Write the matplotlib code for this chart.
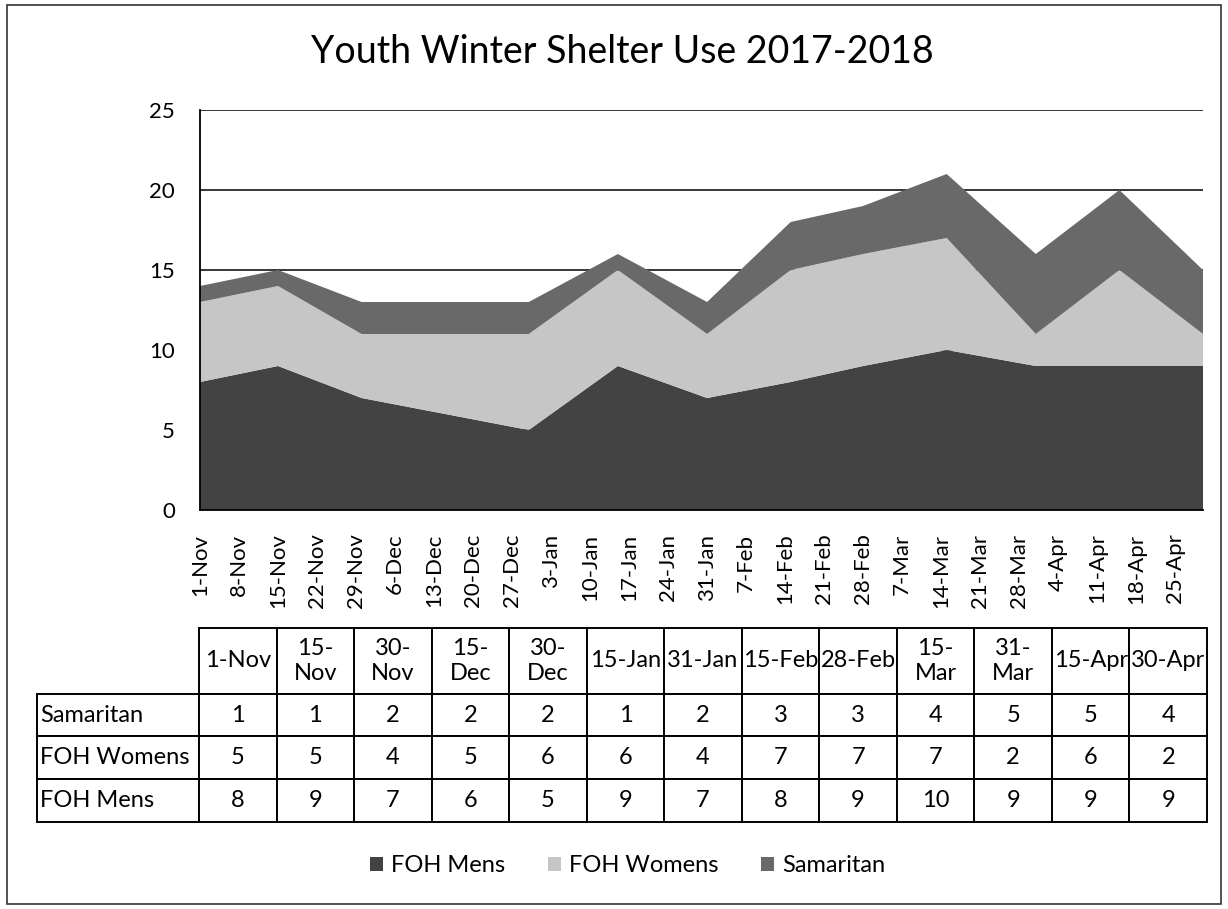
import matplotlib
matplotlib.use("Agg")
import matplotlib.pyplot as plt
from matplotlib.patches import Patch, Rectangle
from matplotlib.table import Table
import pandas as pd

plt.rcParams["font.family"] = ["Lato", "DejaVu Sans"]

dates = ["2017-11-01", "2017-11-15", "2017-11-30", "2017-12-15", "2017-12-30",
         "2018-01-15", "2018-01-31", "2018-02-15", "2018-02-28", "2018-03-15",
         "2018-03-31", "2018-04-15", "2018-04-30"]
table_headers = ["1-Nov", "15-\nNov", "30-\nNov", "15-\nDec", "30-\nDec",
                 "15-Jan", "31-Jan", "15-Feb", "28-Feb", "15-\nMar",
                 "31-\nMar", "15-Apr", "30-Apr"]
foh_mens = [8, 9, 7, 6, 5, 9, 7, 8, 9, 10, 9, 9, 9]
foh_womens = [5, 5, 4, 5, 6, 6, 4, 7, 7, 7, 2, 6, 2]
samaritan = [1, 1, 2, 2, 2, 1, 2, 3, 3, 4, 5, 5, 4]

x_tick_labels = ["1-Nov", "8-Nov", "15-Nov", "22-Nov", "29-Nov", "6-Dec", "13-Dec",
                 "20-Dec", "27-Dec", "3-Jan", "10-Jan", "17-Jan", "24-Jan", "31-Jan",
                 "7-Feb", "14-Feb", "21-Feb", "28-Feb", "7-Mar", "14-Mar", "21-Mar",
                 "28-Mar", "4-Apr", "11-Apr", "18-Apr", "25-Apr"]
y_ticks = [0, 5, 10, 15, 20, 25]

colors = {"FOH Mens": "#434343", "FOH Womens": "#c6c6c6", "Samaritan": "#696969"}

x = pd.to_datetime(dates)
tick_pos = [pd.Timestamp(f"{lab}-{'2017' if lab.endswith(('Nov', 'Dec')) else '2018'}")
            for lab in x_tick_labels]

W, H = 1228, 909
fig = plt.figure(figsize=(W / 100, H / 100), dpi=100)

# outer chart border
fig.patches.append(Rectangle((7 / W, 5 / H), 1 - 14 / W, 1 - 10 / H,
                             transform=fig.transFigure, fill=False,
                             edgecolor="#333333", linewidth=1.2))

# Stacked area chart
ax = fig.add_axes([200 / W, 1 - 510 / H, (1203 - 200) / W, (510 - 110) / H])
ax.stackplot(x, foh_mens, foh_womens, samaritan,
             colors=[colors["FOH Mens"], colors["FOH Womens"], colors["Samaritan"]],
             linewidth=0)
ax.set_xlim(x[0], x[-1])
ax.set_ylim(0, 25)
ax.set_yticks(y_ticks)
ax.yaxis.grid(True, color="black", linewidth=1.1)
ax.set_axisbelow(True)
for side in ["top", "right"]:
    ax.spines[side].set_visible(False)
ax.spines["left"].set_linewidth(1.3)
ax.spines["bottom"].set_linewidth(1.3)
ax.set_xticks(tick_pos)
ax.set_xticklabels(x_tick_labels, rotation=90, fontsize=16)
ax.tick_params(axis="y", length=0, pad=18, labelsize=16)
ax.tick_params(axis="x", length=0, pad=17)

fig.text(0.507, 1 - 63 / H, "Youth Winter Shelter Use 2017-2018",
         ha="center", va="baseline", fontsize=27)

# Data table below the chart
ax_t = fig.add_axes([37 / W, 1 - 822 / H, (1207 - 37) / W, (822 - 628) / H])
ax_t.axis("off")
tbl = Table(ax_t, bbox=[0, 0, 1, 1])
label_w, col_w = 162, 77.5
head_h, row_h = 66, 43
for c, head in enumerate(table_headers):
    tbl.add_cell(0, c + 1, width=col_w, height=head_h, text=head, loc="center")
rows = [("Samaritan", samaritan), ("FOH Womens", foh_womens), ("FOH Mens", foh_mens)]
for r, (name, vals) in enumerate(rows, start=1):
    tbl.add_cell(r, 0, width=label_w, height=row_h, text=name, loc="left")
    for c, v in enumerate(vals):
        tbl.add_cell(r, c + 1, width=col_w, height=row_h, text=str(v), loc="center")
tbl.auto_set_font_size(False)
tbl.set_fontsize(17)
for cell in tbl.get_celld().values():
    cell.set_linewidth(1.4)
    cell.set_edgecolor("black")
    cell.PAD = 0.02
ax_t.add_table(tbl)

# Legend
handles = [Patch(facecolor=colors[n]) for n in ["FOH Mens", "FOH Womens", "Samaritan"]]
fig.legend(handles, ["FOH Mens", "FOH Womens", "Samaritan"], loc="center",
           bbox_to_anchor=(0.511, 1 - 866 / H), ncol=3, frameon=False, fontsize=17,
           handlelength=0.55, handleheight=0.55, handletextpad=0.35, columnspacing=1.8)

fig.savefig("out.png", dpi=100)
